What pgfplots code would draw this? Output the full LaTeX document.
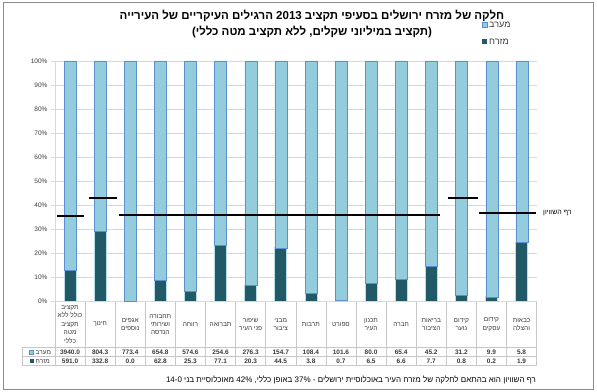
\documentclass[border=0pt]{standalone}
\usepackage{pgfplots}
\pgfplotsset{compat=1.18}
\usepackage{fontspec}
\setmainfont{Liberation Sans}
\newfontfamily\heb[Script=Hebrew]{Liberation Sans}
\TeXXeTstate=1
\newcommand{\R}[1]{{\heb\beginR #1\endR}}
\definecolor{west}{HTML}{93CDDD}
\definecolor{westedge}{HTML}{5B8FCF}
\definecolor{east}{HTML}{215967}
\definecolor{glow}{HTML}{B7DEE8}
\definecolor{gridc}{HTML}{D9D9D9}
\definecolor{tabline}{HTML}{C8C8C8}
\definecolor{txt}{HTML}{3A3A3A}
\begin{document}
\begin{tikzpicture}
\begin{axis}[
  at={(0pt,0pt)}, anchor=south west,
  scale only axis, width=482pt, height=240.7pt,
  xmin=-0.5, xmax=15.5, ymin=0, ymax=100,
  ybar stacked, bar width=12pt, reverse stacked plots=false,
  xtick=\empty,
  ytick={0,10,...,100},
  yticklabel={\pgfmathprintnumber{\tick}\%},
  /pgf/number format/assume math mode=true,
  yticklabel style={font=\fontsize{6.5}{7}\selectfont, text=txt},
  ymajorgrids, grid style={draw=gridc, line width=0.6pt},
  axis lines*=left, axis line style={draw=gridc, line width=0.6pt},
  tick style={draw=gridc, line width=0.6pt}, tick align=outside, major tick length=4pt,
  clip=false,
]
% East (mizrach) share, percent
\addplot[fill=east, draw=glow, line width=1pt] coordinates {
(0,13.04) (1,29.27) (2,0) (3,8.75) (4,4.22) (5,23.24) (6,6.84) (7,22.34)
(8,3.39) (9,0.68) (10,7.51) (11,9.17) (12,14.56) (13,2.50) (14,1.98) (15,24.68)};
% West (maarav) share, percent
\addplot[fill=west, draw=westedge, line width=0.6pt] coordinates {
(0,86.96) (1,70.73) (2,100) (3,91.25) (4,95.78) (5,76.76) (6,93.16) (7,77.66)
(8,96.61) (9,99.32) (10,92.49) (11,90.83) (12,85.44) (13,97.50) (14,98.02) (15,75.32)};
% equality thresholds
\addplot[sharp plot, stack plots=false, draw=black, line width=1.9pt, mark=none] coordinates {(-0.43,35.7) (0.46,35.7)};
\addplot[sharp plot, stack plots=false, draw=black, line width=1.9pt, mark=none] coordinates {(0.63,43) (1.56,43)};
\addplot[sharp plot, stack plots=false, draw=black, line width=1.9pt, mark=none] coordinates {(1.64,36) (12.29,36)};
\addplot[sharp plot, stack plots=false, draw=black, line width=1.9pt, mark=none] coordinates {(12.56,43) (13.55,43)};
\addplot[sharp plot, stack plots=false, draw=black, line width=1.9pt, mark=none] coordinates {(13.59,36.9) (15.48,36.9)};
\end{axis}
\begin{scope}[shift={(-55pt,301.7pt)}, x=1pt, y=-1pt]
\path[use as bounding box] (0,0) rectangle (597,391);
% outer frame
\draw[draw=black!45, line width=0.8pt] (3,2) rectangle (593,389);
% table grid
\foreach \i in {0,...,16} \draw[tabline, line width=0.6pt] ({55+30.1*\i},301.7) -- ({55+30.1*\i},365.7);
\draw[tabline, line width=0.6pt] (22,347.7) -- (536.6,347.7);
\draw[tabline, line width=0.6pt] (22,356.7) -- (536.6,356.7);
\draw[tabline, line width=0.6pt] (22,365.7) -- (536.6,365.7);
\draw[tabline, line width=0.6pt] (22,347.7) -- (22,365.7);
% category labels
\foreach \k/\lab in {
 0/{\R{תקציב}\\\R{כולל ללא}\\\R{תקציב}\\\R{מטה}\\\R{כללי}},
 1/{\R{חינוך}},
 2/{\R{אגפים}\\\R{נוספים}},
 3/{\R{תחבורה}\\\R{ושירותי}\\\R{הנדסה}},
 4/{\R{רווחה}},
 5/{\R{תברואה}},
 6/{\R{שיפור}\\\R{פני העיר}},
 7/{\R{מבני}\\\R{ציבור}},
 8/{\R{תרבות}},
 9/{\R{ספורט}},
 10/{\R{תכנון}\\\R{העיר}},
 11/{\R{חברה}},
 12/{\R{בריאות}\\\R{הציבור}},
 13/{\R{קידום}\\\R{נוער}},
 14/{\R{קידום}\\\R{עסקים}},
 15/{\R{כבאות}\\\R{והצלה}}}
 \node[align=center, font=\fontsize{6.5}{8.4}\selectfont, text=txt, inner sep=0pt] at ({55+30.1*(\k+0.5)},324.5) {\lab};
% numbers
\foreach \k/\w/\e in {0/3940.0/591.0, 1/804.3/332.8, 2/773.4/0.0, 3/654.8/62.8, 4/574.6/25.3,
 5/254.6/77.1, 6/276.3/20.3, 7/154.7/44.5, 8/108.4/3.8, 9/101.6/0.7, 10/80.0/6.5,
 11/65.4/6.6, 12/45.2/7.7, 13/31.2/0.8, 14/9.9/0.2, 15/5.8/1.9} {
 \node[font=\bfseries\fontsize{6.5}{7}\selectfont, text=txt, inner sep=0pt] at ({55+30.1*(\k+0.5)},352.2) {\w};
 \node[font=\bfseries\fontsize{6.5}{7}\selectfont, text=txt, inner sep=0pt] at ({55+30.1*(\k+0.5)},361.2) {\e};
}
% row headers
\fill[west, draw=westedge, line width=0.4pt] (29.5,350) rectangle (33.5,354);
\node[anchor=west, font=\fontsize{6.5}{7}\selectfont, text=txt, inner sep=0pt] at (35.5,352.2) {\R{מערב}};
\fill[east] (29.5,359) rectangle (33.5,363);
\node[anchor=west, font=\fontsize{6.5}{7}\selectfont, text=txt, inner sep=0pt] at (35.5,361.2) {\R{מזרח}};
% legend
\fill[west, draw=westedge, line width=0.4pt] (482,22.5) rectangle (487,27.5);
\node[anchor=west, font=\fontsize{9}{10}\selectfont, text=txt, inner sep=0pt] at (489,25) {\R{מערב}};
\fill[east] (482,39.5) rectangle (487,44.5);
\node[anchor=west, font=\fontsize{9}{10}\selectfont, text=txt, inner sep=0pt] at (489,42) {\R{מזרח}};
% equality label
\node[anchor=west, font=\fontsize{7}{8}\selectfont, text=black, inner sep=0pt] at (543,213) {\R{רף השוויון}};
% title
\node[font=\bfseries\fontsize{11.5}{13}\selectfont, text=black, inner sep=0pt] at (312,15.5) {\R{חלקה של מזרח ירושלים בסעיפי תקציב \beginL 2013\endL{} הרגילים העיקריים של העירייה}};
\node[font=\bfseries\fontsize{11.5}{13}\selectfont, text=black, inner sep=0pt] at (312,32.5) {\R{(תקציב במיליוני שקלים, ללא תקציב מטה כללי)}};
% footnote
\node[anchor=east, font=\fontsize{8}{9}\selectfont, text=black, inner sep=0pt] at (536,380) {\R{רף השוויון הוא בהתאם לחלקה של מזרח העיר באוכלוסיית ירושלים - \beginL 37\%\endL{} באופן כללי, \beginL 42\%\endL{} מאוכלוסיית בני \beginL 14-0\endL}};
\end{scope}
\end{tikzpicture}
\end{document}
